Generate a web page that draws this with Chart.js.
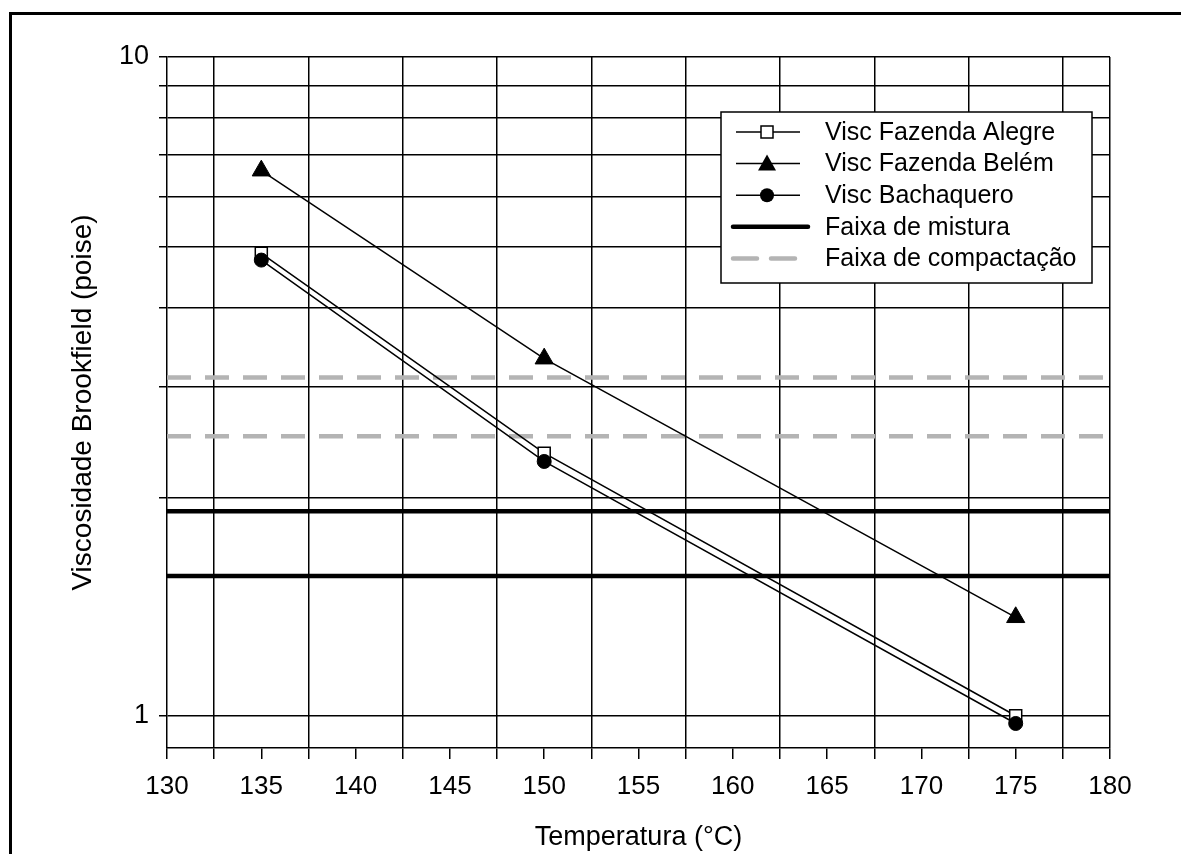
<!DOCTYPE html>
<html>
<head>
<meta charset="utf-8">
<script src="https://cdn.jsdelivr.net/npm/chart.js"></script>
<style>
    body { margin: 0; background: #fff; overflow: hidden; }
    #moldura {
        position: absolute; left: 9px; top: 12px;
        width: 2000px; height: 2000px;
        border-left: 3px solid #000; border-top: 3px solid #000;
    }
    #wrap { position: absolute; left: 0; top: 0; width: 1181px; height: 854px; }
</style>
</head>
<body>
<div id="moldura"></div>
<div id="wrap"><canvas id="graficoViscosidade" width="1181" height="854"></canvas></div>
<script>
// dados
const temperaturas = [135, 150, 175];
const viscFazendaAlegre = [4.88, 2.35, 0.90];
const viscFazendaBelem = [6.6, 3.32, 1.29];
const viscBachaquero = [4.76, 2.28, 0.875];

const faixaMistura = [1.5, 1.9];
const faixaCompactacao = [2.5, 3.1];
const faixaTemp = [130, 180];

const xTicks = [130, 132.5, 135, 137.5, 140, 142.5, 145, 147.5, 150, 152.5, 155,
                157.5, 160, 162.5, 165, 167.5, 170, 172.5, 175, 177.5, 180];
const yTicks = [0.9, 2, 3, 4, 5, 6, 7, 8, 9, 10];
const yTickLabels = ["1", "", "", "", "", "", "", "", "", "10"];

const fonte = "'Liberation Sans', Arial, sans-serif";

function pontos(valores) {
    return temperaturas.map((t, i) => ({ x: t, y: valores[i] }));
}
function linhaH(v) {
    return [{ x: faixaTemp[0], y: v }, { x: faixaTemp[1], y: v }];
}

const estiloMistura = { borderColor: "#000", borderWidth: 4.5, borderDash: [] };
const estiloCompact = { borderColor: "#b4b4b4", borderWidth: 4.5, borderDash: [24, 14] };

const datasets = [
    {
        label: "Visc Fazenda Alegre", data: pontos(viscFazendaAlegre),
        borderColor: "#000", borderWidth: 1.5, pointStyle: "rect", pointRadius: 8.5,
        pointBackgroundColor: "#fff", pointBorderColor: "#000", pointBorderWidth: 1.5, order: 1
    },
    {
        label: "Visc Fazenda Belém", data: pontos(viscFazendaBelem),
        borderColor: "#000", borderWidth: 1.5, pointStyle: "triangle", pointRadius: 10.5,
        pointBackgroundColor: "#000", pointBorderColor: "#000", pointBorderWidth: 1, order: 2
    },
    {
        label: "Visc Bachaquero", data: pontos(viscBachaquero),
        borderColor: "#000", borderWidth: 1.5, pointStyle: "circle", pointRadius: 7,
        pointBackgroundColor: "#000", pointBorderColor: "#000", pointBorderWidth: 1, order: 0
    }
];
faixaMistura.forEach(v => datasets.push(Object.assign({
    label: "Faixa de mistura", data: linhaH(v), pointRadius: 0, order: 5
}, estiloMistura)));
faixaCompactacao.forEach(v => datasets.push(Object.assign({
    label: "Faixa de compactação", data: linhaH(v), pointRadius: 0, order: 6
}, estiloCompact)));

// legenda desenhada dentro da área do gráfico
const legendaPlugin = {
    id: "legendaCaixa",
    afterDraw(chart) {
        const ctx = chart.ctx;
        const box = { x: 721, y: 112, w: 371, h: 171 };
        const entradas = [0, 1, 2, 3, 5];
        ctx.save();
        ctx.fillStyle = "#fff";
        ctx.fillRect(box.x, box.y, box.w, box.h);
        ctx.strokeStyle = "#000";
        ctx.lineWidth = 1.5;
        ctx.strokeRect(box.x, box.y, box.w, box.h);

        entradas.forEach((di, i) => {
            const ds = chart.data.datasets[di];
            const y = 132 + i * 31.6;
            ctx.beginPath();
            ctx.strokeStyle = ds.borderColor;
            ctx.lineWidth = ds.borderWidth;
            ctx.setLineDash(ds.borderDash || []);
            ctx.lineCap = ds.pointRadius ? "butt" : "round";
            ctx.moveTo(di >= 3 ? 733 : 736, y);
            ctx.lineTo(di >= 3 ? 808 : 800, y);
            ctx.stroke();
            ctx.setLineDash([]);

            const cx = 767;
            if (ds.pointStyle === "rect") {
                ctx.fillStyle = "#fff";
                ctx.fillRect(cx - 6, y - 6, 12, 12);
                ctx.lineWidth = 1.5;
                ctx.strokeRect(cx - 6, y - 6, 12, 12);
            } else if (ds.pointStyle === "triangle") {
                ctx.fillStyle = "#000";
                ctx.beginPath();
                ctx.moveTo(cx, y - 9);
                ctx.lineTo(cx + 9, y + 7);
                ctx.lineTo(cx - 9, y + 7);
                ctx.closePath();
                ctx.fill();
            } else if (ds.pointStyle === "circle") {
                ctx.fillStyle = "#000";
                ctx.beginPath();
                ctx.arc(cx, y, 7, 0, Math.PI * 2);
                ctx.fill();
            }

            ctx.fillStyle = "#000";
            ctx.font = "25px " + fonte;
            ctx.textBaseline = "middle";
            ctx.textAlign = "left";
            ctx.fillText(ds.label, 825, y + 1);
        });
        ctx.restore();
    }
};

new Chart(document.getElementById("graficoViscosidade"), {
    type: "line",
    data: { datasets: datasets },
    options: {
        responsive: false,
        animation: false,
        layout: { padding: { left: 0, top: 57, right: 71, bottom: 0 } },
        plugins: { legend: { display: false }, tooltip: { enabled: false } },
        elements: { line: { tension: 0, fill: false } },
        scales: {
            x: {
                type: "linear",
                min: faixaTemp[0],
                max: faixaTemp[1],
                afterBuildTicks: axis => { axis.ticks = xTicks.map(v => ({ value: v })); },
                afterFit: axis => { axis.height = 106; },
                ticks: {
                    autoSkip: false, maxRotation: 0, padding: 12, color: "#000",
                    font: { family: fonte, size: 26 },
                    callback: v => (v % 5 === 0 ? String(v) : "")
                },
                grid: {
                    color: c => (c.tick && c.tick.value % 5 !== 0) || (c.tick && c.tick.value === 180) ? "#000" : "rgba(0,0,0,0)",
                    tickColor: "#000",
                    lineWidth: 1.5,
                    tickLength: 11
                },
                border: { color: "#000", width: 1.5 },
                title: {
                    display: true, text: "Temperatura (°C)", color: "#000",
                    font: { family: fonte, size: 27 }, padding: { top: 0, bottom: 0 }
                }
            },
            y: {
                type: "logarithmic",
                min: 0.8,
                max: 10,
                afterBuildTicks: axis => { axis.ticks = yTicks.map(v => ({ value: v })); },
                afterFit: axis => { axis.width = 167; },
                ticks: {
                    padding: 10, color: "#000",
                    font: { family: fonte, size: 27 },
                    callback: (v, i) => yTickLabels[i]
                },
                grid: { color: "#000", lineWidth: 1.5, tickLength: 8 },
                border: { color: "#000", width: 1.5 },
                title: {
                    display: true, text: "Viscosidade Brookfield (poise)", color: "#000",
                    font: { family: fonte, size: 28 }, padding: { top: 66, bottom: 0 }
                }
            }
        }
    },
    plugins: [legendaPlugin]
});
</script>
</body>
</html>
